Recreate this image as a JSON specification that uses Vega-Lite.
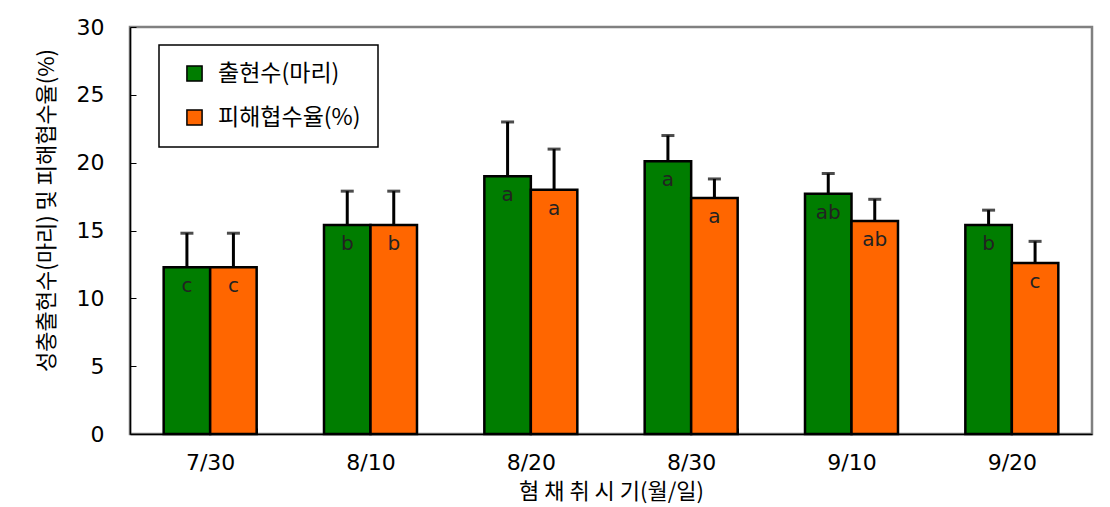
{
  "$schema": "https://vega.github.io/schema/vega-lite/v6.json",
  "width": 962,
  "height": 407,
  "autosize": {"type": "none"},
  "padding": {"left": 130, "top": 27, "right": 18, "bottom": 73},
  "background": "white",
  "config": {
    "view": {"stroke": "#808080", "strokeWidth": 2.5},
    "axis": {"grid": false, "domainColor": "black", "domainWidth": 1.5, "tickColor": "black", "tickWidth": 1, "labelColor": "black", "titleColor": "black", "labelFont": "DejaVu Sans", "titleFont": "Noto Sans CJK KR", "titleFontWeight": "normal"},
    "legend": {"orient": "none", "legendX": 29, "legendY": 18, "strokeColor": "black", "strokeWidth": 1.5, "fillColor": "white", "padding": 17, "rowPadding": 20, "symbolType": "square", "symbolSize": 230, "symbolStrokeColor": "black", "symbolStrokeWidth": 1.5, "labelFontSize": 23, "labelFont": "Noto Sans CJK KR", "labelColor": "black", "labelOffset": 12, "labelLimit": 300, "symbolOffset": 7}
  },
  "data": {
    "values": [
      {"date": "7/30", "series": "출현수(마리)", "value": 12.3, "err": 14.8, "letter": "c"},
      {"date": "7/30", "series": "피해협수율(%)", "value": 12.3, "err": 14.8, "letter": "c"},
      {"date": "8/10", "series": "출현수(마리)", "value": 15.4, "err": 17.9, "letter": "b"},
      {"date": "8/10", "series": "피해협수율(%)", "value": 15.4, "err": 17.9, "letter": "b"},
      {"date": "8/20", "series": "출현수(마리)", "value": 19.0, "err": 23.0, "letter": "a"},
      {"date": "8/20", "series": "피해협수율(%)", "value": 18.0, "err": 21.0, "letter": "a"},
      {"date": "8/30", "series": "출현수(마리)", "value": 20.1, "err": 22.0, "letter": "a"},
      {"date": "8/30", "series": "피해협수율(%)", "value": 17.4, "err": 18.8, "letter": "a"},
      {"date": "9/10", "series": "출현수(마리)", "value": 17.7, "err": 19.2, "letter": "ab"},
      {"date": "9/10", "series": "피해협수율(%)", "value": 15.7, "err": 17.3, "letter": "ab"},
      {"date": "9/20", "series": "출현수(마리)", "value": 15.4, "err": 16.5, "letter": "b"},
      {"date": "9/20", "series": "피해협수율(%)", "value": 12.6, "err": 14.2, "letter": "c"}
    ]
  },
  "encoding": {
    "x": {"field": "date", "type": "nominal", "sort": null,
      "scale": {"paddingInner": 0.42, "paddingOuter": 0.21},
      "axis": {"title": "혐 채 취 시 기(월/일)", "titleFontSize": 22, "titlePadding": 8, "labelAngle": 0, "labelFontSize": 22, "labelPadding": 24, "tickSize": -6, "tickBand": "extent"}},
    "xOffset": {"field": "series", "type": "nominal", "scale": {"domain": ["출현수(마리)", "피해협수율(%)"]}}
  },
  "layer": [
    {
      "mark": {"type": "rule", "color": "black", "strokeWidth": 3},
      "encoding": {
        "y": {"field": "value", "type": "quantitative"},
        "y2": {"field": "err"}
      }
    },
    {
      "mark": {"type": "tick", "color": "black", "thickness": 3, "size": 13},
      "encoding": {
        "y": {"field": "err", "type": "quantitative"}
      }
    },
    {
      "mark": {"type": "bar", "stroke": "black", "strokeWidth": 2.5},
      "encoding": {
        "y": {"field": "value", "type": "quantitative",
          "scale": {"domain": [0, 30], "nice": false},
          "axis": {"title": "성충출현수(마리) 및 피해협수율(%)", "titleFontSize": 22, "titlePadding": 18, "titleY": 183, "values": [0, 5, 10, 15, 20, 25, 30], "labelFontSize": 22, "labelPadding": 32, "tickSize": -6}},
        "color": {"field": "series", "type": "nominal",
          "scale": {"domain": ["출현수(마리)", "피해협수율(%)"], "range": ["#007d00", "#ff6600"]},
          "legend": {"title": null}}
      }
    },
    {
      "mark": {"type": "text", "dy": 19, "fontSize": 20, "font": "DejaVu Sans", "color": "#222222"},
      "encoding": {
        "y": {"field": "value", "type": "quantitative"},
        "text": {"field": "letter"}
      }
    }
  ]
}
